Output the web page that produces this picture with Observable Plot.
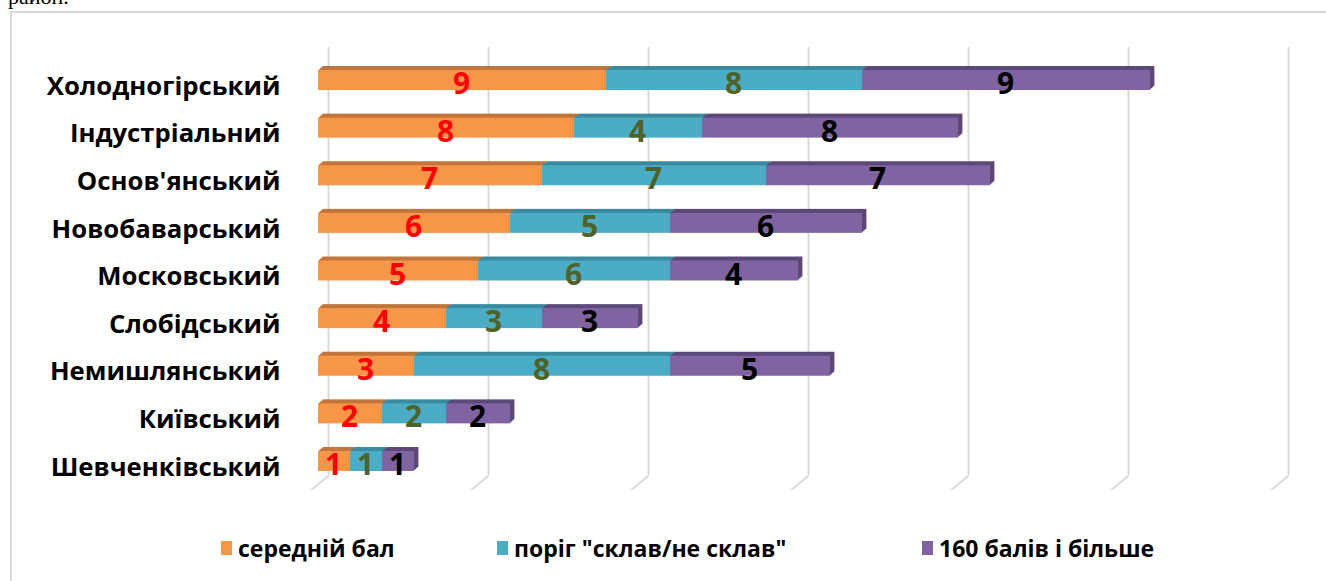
<!DOCTYPE html>
<html>
<head>
<meta charset="utf-8">
<script src="https://cdn.jsdelivr.net/npm/d3@7"></script>
<script src="https://cdn.jsdelivr.net/npm/@observablehq/plot@0.6"></script>
<style>
  body { margin: 0; background: #fff; }
  #wrap { position: relative; width: 1326px; height: 581px; overflow: hidden; font-family: "Open Sans", sans-serif; }
  #topText { position: absolute; left: 8px; top: -14px; font: 22px "Liberation Serif", serif; color: #000; line-height: 22px; }
  #frame { position: absolute; left: 10px; top: 11px; width: 1340px; height: 620px; border-left: 2px solid #d9d9d9; border-top: 2px solid #d9d9d9; }
  #chart { position: absolute; left: 0; top: 0; }
  .lg { position: absolute; top: 535px; height: 26px; display: flex; align-items: center; font-weight: 700; font-size: 23px; color: #000; white-space: nowrap; }
  .sw { width: 11px; height: 14px; margin-right: 6px; }
</style>
</head>
<body>
<div id="wrap">
  <div id="topText">район.</div>
  <div id="chart"></div>
  <div id="legend"></div>
  <div id="frame"></div>
</div>
<script>
const categories = ["Холодногірський", "Індустріальний", "Основ'янський", "Новобаварський", "Московський", "Слобідський", "Немишлянський", "Київський", "Шевченківський"];
const avgScore = [9, 8, 7, 6, 5, 4, 3, 2, 1];
const passThreshold = [8, 4, 7, 5, 6, 3, 8, 2, 1];
const over160 = [9, 8, 7, 6, 4, 3, 5, 2, 1];
const seriesNames = ["середній бал", "поріг \"склав/не склав\"", "160 балів і більше"];
const gridTicks = [0, 5, 10, 15, 20, 25, 30];

const seriesColors = ["#f79646", "#4bacc6", "#8064a2"];
const depthColors = ["#c0763c", "#3a8ba1", "#5d4979"];
const labelColors = ["#ff0000", "#4f6228", "#000000"];

const seriesValues = [avgScore, passThreshold, over160];
const rows = [];
categories.forEach((cat, i) => {
  let cum = 0;
  seriesValues.forEach((vals, s) => {
    rows.push({cat, i, s, value: vals[i], x1: cum, x2: cum + vals[i]});
    cum += vals[i];
  });
});

const half = 0.21;
const depthMarks = [];
for (let k = 4; k >= 1; k--) {
  depthMarks.push(Plot.rect(rows, {
    x1: "x1", x2: "x2", y1: d => d.i - half, y2: d => d.i + half,
    fill: d => depthColors[d.s], dx: k * 1.1, dy: -k
  }));
}

const chart = Plot.plot({
  width: 1326,
  height: 500,
  marginTop: 0, marginBottom: 0, marginLeft: 0, marginRight: 0,
  style: {background: "transparent", fontFamily: "'Open Sans', sans-serif"},
  x: {domain: [0, 30], range: [318, 1278], axis: null},
  y: {domain: [0, 8], range: [80, 461], axis: null},
  color: {type: "identity"},
  marks: [
    Plot.ruleX(gridTicks, {x: d => d, y1: -0.693, y2: 8.298, dx: 10, stroke: "#d9d9d9", strokeWidth: 2}),
    Plot.link(gridTicks, {x1: d => d, x2: d => d - 17 / 32, y1: 8.298, y2: 8.592, dx: 10, stroke: "#d9d9d9", strokeWidth: 2}),
    ...depthMarks,
    Plot.rect(rows, {x1: "x1", x2: "x2", y1: d => d.i - half, y2: d => d.i + half, fill: d => seriesColors[d.s]}),
    Plot.text(rows, {
      x: d => (d.x1 + d.x2) / 2, y: "i", text: d => String(d.value),
      fill: d => labelColors[d.s], fontSize: 30, fontWeight: 700, dy: 4, dx: -1
    }),
    Plot.text(categories, {
      x: 0, y: (d, i) => i, text: d => d, textAnchor: "end",
      dx: -38, dy: 6, fontSize: 25.7, fontWeight: 700, fill: "#000"
    })
  ]
});
document.getElementById("chart").appendChild(chart);

const legendLefts = [221, 497, 922];
const legend = document.getElementById("legend");
seriesNames.forEach((name, s) => {
  const item = document.createElement("div");
  item.className = "lg";
  item.style.left = legendLefts[s] + "px";
  const sw = document.createElement("span");
  sw.className = "sw";
  sw.style.background = seriesColors[s];
  const t = document.createElement("span");
  t.textContent = name;
  item.appendChild(sw);
  item.appendChild(t);
  legend.appendChild(item);
});
</script>
</body>
</html>
